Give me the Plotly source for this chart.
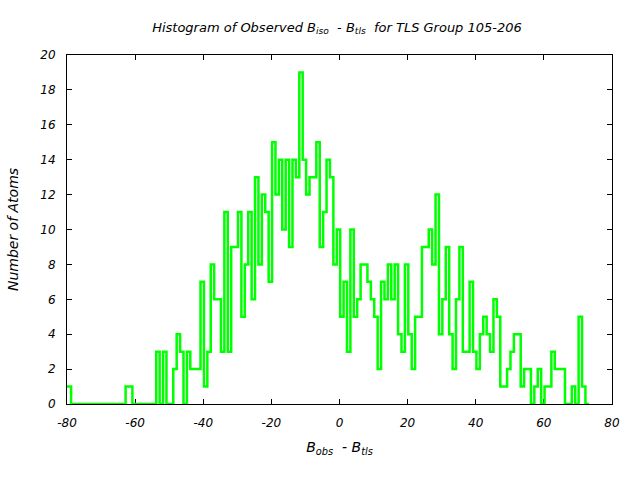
import numpy as np
import plotly.graph_objects as go

# Histogram of B_obs - B_tls: bins of width 1 starting at bin_start
bin_start = -80.8
bin_width = 1.0
counts = [
    1, 1,
    0, 0, 0, 0, 0, 0, 0, 0, 0, 0, 0, 0, 0, 0, 0, 0,
    1, 1,
    0, 0, 0, 0, 0, 0, 0,
    3, 0, 3, 0, 0, 2, 4, 3, 0, 3, 2, 2, 2, 7, 1, 3, 8, 6, 6, 3,
    11, 3, 9, 9, 11, 5, 8, 11, 6, 13, 8, 12, 11, 7, 15, 12, 14, 10,
    14, 9, 14, 13, 19, 14, 12, 13, 13, 15, 9, 11, 14, 13, 8, 10,
    5, 7, 3, 10, 5, 6, 8, 8, 7, 6, 5, 2, 7, 6, 8, 6, 8, 4, 3, 8,
    4, 2, 5, 5, 9, 9, 10, 8, 12, 4, 6, 9, 4, 2, 6, 9, 3, 3, 7, 3,
    2, 4, 5, 4, 3, 6, 5, 1, 1, 2, 3, 4, 4, 1, 2, 2, 0, 1, 2, 0,
    1, 1, 3, 2, 2, 2, 0, 0, 1, 0, 5, 1, 0,
]

x_ticks = [-80, -60, -40, -20, 0, 20, 40, 60, 80]
x_tick_labels = ["-80", "-60", "-40", "-20", "0", "20", "40", "60", "80"]
y_ticks = [0, 2, 4, 6, 8, 10, 12, 14, 16, 18, 20]

edges = bin_start + bin_width * np.arange(len(counts) + 1)
step_y = counts + [counts[-1]]

fig = go.Figure()
fig.add_trace(go.Scatter(
    x=edges, y=step_y, mode="lines",
    line=dict(shape="hv", color="#00ff00", width=2.5),
    showlegend=False, hoverinfo="skip",
))

font_family = "DejaVu Sans"
fig.update_layout(
    width=640, height=480,
    margin=dict(l=67, r=28, t=55, b=76, autoexpand=False),
    paper_bgcolor="white", plot_bgcolor="white",
    font=dict(family=font_family, size=12, color="black", style="italic"),
    title=dict(
        text="Histogram of Observed B<sub>iso</sub>  - B<sub>tls</sub>  for TLS Group 105-206",
        x=337 / 640, xanchor="center", y=1 - 27 / 480, yanchor="middle",
        yref="container", xref="container",
        font=dict(family=font_family, size=13, color="black", style="italic"),
    ),
    showlegend=False,
)
fig.update_xaxes(
    range=[-80, 80], tickmode="array", tickvals=x_ticks, ticktext=x_tick_labels,
    ticks="inside", ticklen=5, tickcolor="black", tickwidth=1,
    showline=True, linecolor="black", linewidth=1, mirror="allticks",
    showgrid=False, zeroline=False, layer="below traces",
    ticklabelstandoff=8,
    title=dict(text="B<sub>obs</sub>  - B<sub>tls</sub>", standoff=12,
               font=dict(family=font_family, size=14, style="italic")),
)
fig.update_yaxes(
    range=[0, 20], tickmode="array", tickvals=y_ticks,
    ticks="inside", ticklen=5, tickcolor="black", tickwidth=1,
    showline=True, linecolor="black", linewidth=1, mirror="allticks",
    showgrid=False, zeroline=False, layer="below traces",
    ticklabelstandoff=8,
    title=dict(text="Number of Atoms", standoff=18,
               font=dict(family=font_family, size=14, style="italic")),
)

fig.write_html(
    "out.html",
    config={"displayModeBar": False, "staticPlot": True},
    post_script="document.body.style.margin='0px';",
)
